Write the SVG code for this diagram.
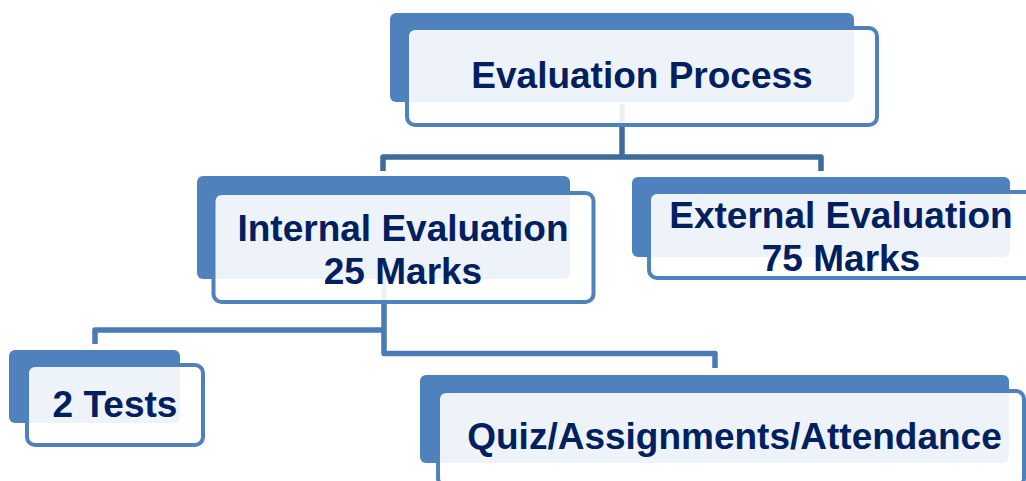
<svg xmlns="http://www.w3.org/2000/svg" width="1026" height="481" viewBox="0 0 1026 481">
<style>
.back{fill:#4f81bd;}
.front{fill:#ffffff;fill-opacity:0.9;stroke:#4f81bd;stroke-width:4;}
.lbl{font-family:"Liberation Sans",Arial,sans-serif;font-weight:bold;font-size:37px;fill:#002060;text-anchor:middle;}
.c1{fill:none;stroke:#3f6b9b;stroke-width:5.5;stroke-linejoin:round;}
.c2{fill:none;stroke:#4a7bb6;stroke-width:5.5;stroke-linejoin:round;}
</style>
<rect width="1026" height="481" fill="#ffffff"/>
<g id="connectors">
<path class="c1" d="M622,104 V157 M383,171 V157 H821 V171"/>
<path class="c2" d="M384,279 V353.5 H715 V368 M384,330 H95 V344"/>
</g>
<g id="node-evaluation-process">
<rect class="back" x="390" y="13" width="464" height="89" rx="6"/>
<rect class="front" x="407" y="28" width="470" height="97" rx="8"/>
<text class="lbl" x="642" y="88">Evaluation Process</text>
</g>
<g id="node-internal">
<rect class="back" x="197" y="176" width="373" height="103" rx="6"/>
<rect class="front" x="213.5" y="193" width="380" height="109" rx="8"/>
<text class="lbl" x="403" y="241">Internal Evaluation</text>
<text class="lbl" x="403" y="284">25 Marks</text>
</g>
<g id="node-external">
<rect class="back" x="632" y="177" width="378" height="80" rx="6"/>
<rect class="front" x="649" y="192" width="384" height="86" rx="8"/>
<text class="lbl" x="841" y="228">External Evaluation</text>
<text class="lbl" x="841" y="271">75 Marks</text>
</g>
<g id="node-tests">
<rect class="back" x="9" y="350" width="171" height="73" rx="6"/>
<rect class="front" x="27" y="365" width="176" height="80" rx="8"/>
<text class="lbl" x="115" y="417">2 Tests</text>
</g>
<g id="node-quiz">
<rect class="back" x="420" y="375" width="589" height="88" rx="6"/>
<rect class="front" x="438" y="391" width="586" height="95" rx="8"/>
<text class="lbl" x="734.5" y="449">Quiz/Assignments/Attendance</text>
</g>
</svg>
